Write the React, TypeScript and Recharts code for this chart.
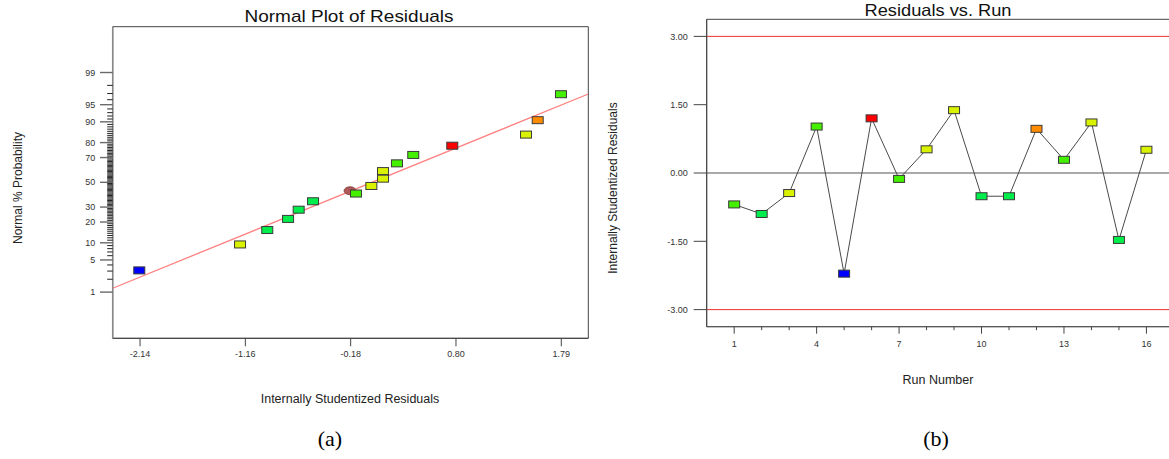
import React from 'react';
import {
  ScatterChart, Scatter, XAxis, YAxis, ReferenceArea, ComposedChart, Line, ReferenceLine,
} from 'recharts';

// ---------- Data: Normal plot of residuals ----------
const normResidual = [-2.147, -1.207, -0.953, -0.759, -0.660, -0.526, -0.125, 0.018, 0.127, 0.127, 0.257, 0.409, 0.773, 1.461, 1.570, 1.787];
const normPercent = [3.1, 9.4, 15.6, 21.9, 28.1, 34.4, 40.6, 46.9, 53.1, 59.4, 65.6, 71.9, 78.1, 84.4, 90.6, 96.9];
const normColors = ['#0000ff', '#d9f200', '#00ee4c', '#00ee4c', '#00ee4c', '#00ee4c', '#44f000', '#d9f200', '#d9f200', '#d9f200', '#44f000', '#44f000', '#ff0000', '#d9f200', '#ff8c00', '#44f000'];
const markedResidual = [-0.181];
const markedPercent = [42.9];
const fitResidual = [-2.395, 2.042];
const fitPercent = [1.24, 96.93];
const xTickValues = [-2.14, -1.1575, -0.175, 0.8075, 1.79];
const xTickLabels = ['-2.14', '-1.16', '-0.18', '0.80', '1.79'];
const probMajorTicks = [1, 5, 10, 20, 30, 50, 70, 80, 90, 95, 99];
const probMinorTicks = [2, 3, 4, 6, 7, 8, 9, 11, 12, 13, 14, 15, 16, 17, 18, 19, 21, 22, 23, 24, 25, 26, 27, 28, 29,
  31, 32, 33, 34, 35, 36, 37, 38, 39, 40, 41, 42, 43, 44, 45, 46, 47, 48, 49, 51, 52, 53, 54, 55, 56, 57, 58, 59, 60,
  61, 62, 63, 64, 65, 66, 67, 68, 69, 71, 72, 73, 74, 75, 76, 77, 78, 79, 81, 82, 83, 84, 85, 86, 87, 88, 89,
  91, 92, 93, 94, 96, 97, 98];

// ---------- Data: Residuals vs. Run ----------
const runNumbers = [1, 2, 3, 4, 5, 6, 7, 8, 9, 10, 11, 12, 13, 14, 15, 16];
const runResiduals = [-0.69, -0.90, -0.44, 1.02, -2.21, 1.20, -0.13, 0.52, 1.38, -0.51, -0.51, 0.97, 0.29, 1.11, -1.47, 0.51];
const runColors = ['#44f000', '#00ee4c', '#d9f200', '#44f000', '#0000ff', '#ff0000', '#44f000', '#d9f200', '#d9f200', '#00ee4c', '#00ee4c', '#ff8c00', '#44f000', '#d9f200', '#00ee4c', '#d9f200'];
const runLabelTicks = [1, 4, 7, 10, 13, 16];
const residualTicks = [-3, -1.5, 0, 1.5, 3];
const residualLimits = [-3, 3];

// inverse standard normal CDF (probability-scale axis transform)
function probit(p: number): number {
  const a = [-3.969683028665376e+01, 2.209460984245205e+02, -2.759285104469687e+02, 1.383577518672690e+02, -3.066479806614716e+01, 2.506628277459239e+00];
  const b = [-5.447609879822406e+01, 1.615858368580409e+02, -1.556989798598866e+02, 6.680131188771972e+01, -1.328068155288572e+01];
  const c = [-7.784894002430293e-03, -3.223964580411365e-01, -2.400758277161838e+00, -2.549732539343734e+00, 4.374664141464968e+00, 2.938163982698783e+00];
  const d = [7.784695709041462e-03, 3.224671290700398e-01, 2.445134137142996e+00, 3.754408661907416e+00];
  const pl = 0.02425;
  if (p < pl) {
    const q = Math.sqrt(-2 * Math.log(p));
    return (((((c[0] * q + c[1]) * q + c[2]) * q + c[3]) * q + c[4]) * q + c[5]) / ((((d[0] * q + d[1]) * q + d[2]) * q + d[3]) * q + 1);
  }
  if (p <= 1 - pl) {
    const q = p - 0.5;
    const r = q * q;
    return (((((a[0] * r + a[1]) * r + a[2]) * r + a[3]) * r + a[4]) * r + a[5]) * q / (((((b[0] * r + b[1]) * r + b[2]) * r + b[3]) * r + b[4]) * r + 1);
  }
  const q = Math.sqrt(-2 * Math.log(1 - p));
  return -(((((c[0] * q + c[1]) * q + c[2]) * q + c[3]) * q + c[4]) * q + c[5]) / ((((d[0] * q + d[1]) * q + d[2]) * q + d[3]) * q + 1);
}

const FONT = '"Liberation Sans", Arial, sans-serif';

const normPoints = normResidual.map((x, i) => ({ x, y: probit(normPercent[i] / 100), color: normColors[i] }));
const markedPoints = markedResidual.map((x, i) => ({ x, y: probit(markedPercent[i] / 100) }));
const fitPoints = fitResidual.map((x, i) => ({ x, y: probit(fitPercent[i] / 100) }));
const probAllTicks = [...probMajorTicks, ...probMinorTicks].sort((m, n) => m - n);
const probTickZ = probAllTicks.map((p) => probit(p / 100));

const runData = runNumbers.map((run, i) => ({ run, res: runResiduals[i], color: runColors[i] }));

const X_DOMAIN: [number, number] = [-2.395, 2.042];
const Z_DOMAIN: [number, number] = [-3.305, 3.297];
const RUN_DOMAIN: [number, number] = [0, 17];
const RES_DOMAIN: [number, number] = [-3.375, 3.375];

function ProbTick(props: any) {
  const { x, y, payload } = props;
  const v = payload.value;
  let pct = probAllTicks[0];
  let best = Infinity;
  probAllTicks.forEach((p, i) => {
    const dd = Math.abs(probTickZ[i] - v);
    if (dd < best) { best = dd; pct = p; }
  });
  const major = probMajorTicks.includes(pct);
  return (
    <g>
      <line x1={x - (major ? 12.7 : 5.5)} x2={x} y1={y} y2={y} stroke={major ? '#6a6a6a' : '#222'} strokeWidth={major ? 1.4 : 1} />
      {major && (
        <text x={x - 17.5} y={y} dy="0.35em" textAnchor="end" fontSize={9} fill="#333" fontFamily={FONT}>{pct}</text>
      )}
    </g>
  );
}

function RunTick(props: any) {
  const { x, y, payload } = props;
  const v = payload.value;
  const major = runLabelTicks.includes(v);
  return (
    <g>
      <line x1={x} x2={x} y1={y} y2={y + (major ? 7 : 3.5)} stroke="#444" strokeWidth={1} />
      {major && (
        <text x={x} y={y + 17} dy="0.35em" textAnchor="middle" fontSize={9} fill="#333" fontFamily={FONT}>{v}</text>
      )}
    </g>
  );
}

function BoxShape(props: any) {
  const { cx, cy, payload } = props;
  return <rect x={cx - 5.5} y={cy - 3.5} width={11} height={7} fill={payload.color} stroke="#3a3a3a" strokeWidth={1} />;
}

function EllipseShape(props: any) {
  const { cx, cy } = props;
  return <ellipse cx={cx} cy={cy} rx={6} ry={4} fill="#b05858" stroke="#7a3a3a" strokeWidth={0.8} />;
}

function NoShape() {
  return <g />;
}

function RunDot(props: any) {
  const { cx, cy, payload, index } = props;
  return <rect key={'d' + index} x={cx - 5.5} y={cy - 3.5} width={11} height={7} fill={payload.color} stroke="#3a3a3a" strokeWidth={1} />;
}

export default function App() {
  return (
    <div style={{ position: 'fixed', left: 0, top: 0, width: 1169, height: 459, overflow: 'hidden', background: '#fff', fontFamily: FONT }}>
      <div style={{ position: 'absolute', left: 0, top: 0 }}>
        <ScatterChart width={600} height={459} margin={{ top: 26.7, right: 11.7, left: 52.7, bottom: 90.7 }}>
          <XAxis
            type="number" dataKey="x" domain={X_DOMAIN} allowDataOverflow ticks={xTickValues} interval={0}
            tickFormatter={(_v: number, i: number) => xTickLabels[i]}
            tick={{ fontSize: 9, fill: '#333', fontFamily: FONT }} tickLine={{ stroke: '#444' }} tickSize={8} tickMargin={4}
            axisLine={{ stroke: '#444' }} height={30}
          />
          <YAxis
            type="number" dataKey="y" domain={Z_DOMAIN} allowDataOverflow ticks={probTickZ} interval={0}
            tick={<ProbTick />} tickLine={false} tickSize={0} tickMargin={0}
            axisLine={{ stroke: '#888', strokeWidth: 1.5 }} width={60}
          />
          <ReferenceArea x1={X_DOMAIN[0]} x2={X_DOMAIN[1]} y1={Z_DOMAIN[0]} y2={Z_DOMAIN[1]} fill="none" stroke="#444" strokeWidth={1} />
          <Scatter data={fitPoints} line={{ stroke: '#ff8080', strokeWidth: 1.3 }} shape={<NoShape />} isAnimationActive={false} />
          <Scatter data={markedPoints} shape={<EllipseShape />} isAnimationActive={false} />
          <Scatter data={normPoints} shape={<BoxShape />} isAnimationActive={false} />
        </ScatterChart>
      </div>
      <div style={{ position: 'absolute', left: 600, top: 0 }}>
        <ComposedChart width={600} height={459} data={runData} margin={{ top: 19.3, right: 26.1, left: 46.7, bottom: 102.3 }}>
          <XAxis
            type="number" dataKey="run" domain={RUN_DOMAIN} allowDataOverflow ticks={runNumbers} interval={0}
            tick={<RunTick />} tickLine={false} tickSize={0} tickMargin={0} axisLine={{ stroke: '#555' }} height={30}
          />
          <YAxis
            type="number" domain={RES_DOMAIN} allowDataOverflow ticks={residualTicks} interval={0}
            tickFormatter={(v: number) => v.toFixed(2)}
            tick={{ fontSize: 9, fill: '#333', fontFamily: FONT }} tickSize={13} tickMargin={6}
            tickLine={{ stroke: '#444' }} axisLine={{ stroke: '#444' }} width={60}
          />
          <ReferenceArea x1={RUN_DOMAIN[0]} x2={RUN_DOMAIN[1]} y1={RES_DOMAIN[0]} y2={RES_DOMAIN[1]} fill="none" stroke="#444" strokeWidth={1} />
          {residualLimits.map((v) => (
            <ReferenceLine key={v} y={v} stroke="#ee3030" strokeWidth={1} />
          ))}
          <ReferenceLine y={0} stroke="#555" strokeWidth={1.2} />
          <Line dataKey="res" stroke="#4a4a4a" strokeWidth={1} dot={<RunDot />} activeDot={false} isAnimationActive={false} />
        </ComposedChart>
      </div>
      <svg width={1169} height={459} style={{ position: 'absolute', left: 0, top: 0, pointerEvents: 'none' }}>
        <text x={349} y={22} textAnchor="middle" fontSize={17} textLength={209} lengthAdjust="spacingAndGlyphs" fill="#111" fontFamily={FONT}>Normal Plot of Residuals</text>
        <text x={938} y={15.5} textAnchor="middle" fontSize={16.5} textLength={147} lengthAdjust="spacingAndGlyphs" fill="#111" fontFamily={FONT}>Residuals vs. Run</text>
        <text x={350} y={403} textAnchor="middle" fontSize={12.5} fill="#222" fontFamily={FONT}>Internally Studentized Residuals</text>
        <text x={938} y={384} textAnchor="middle" fontSize={12.5} fill="#222" fontFamily={FONT}>Run Number</text>
        <text x={18} y={188} textAnchor="middle" dominantBaseline="central" fontSize={12} fill="#222" fontFamily={FONT} transform="rotate(-90 18 188)">Normal % Probability</text>
        <text x={613} y={188} textAnchor="middle" dominantBaseline="central" fontSize={12} fill="#222" fontFamily={FONT} transform="rotate(-90 613 188)">Internally Studentized Residuals</text>
        <text x={330} y={446} textAnchor="middle" fontSize={22} fill="#000" fontFamily={'"Liberation Serif", "Times New Roman", serif'}>(a)</text>
        <text x={936} y={446} textAnchor="middle" fontSize={22} fill="#000" fontFamily={'"Liberation Serif", "Times New Roman", serif'}>(b)</text>
      </svg>
    </div>
  );
}
